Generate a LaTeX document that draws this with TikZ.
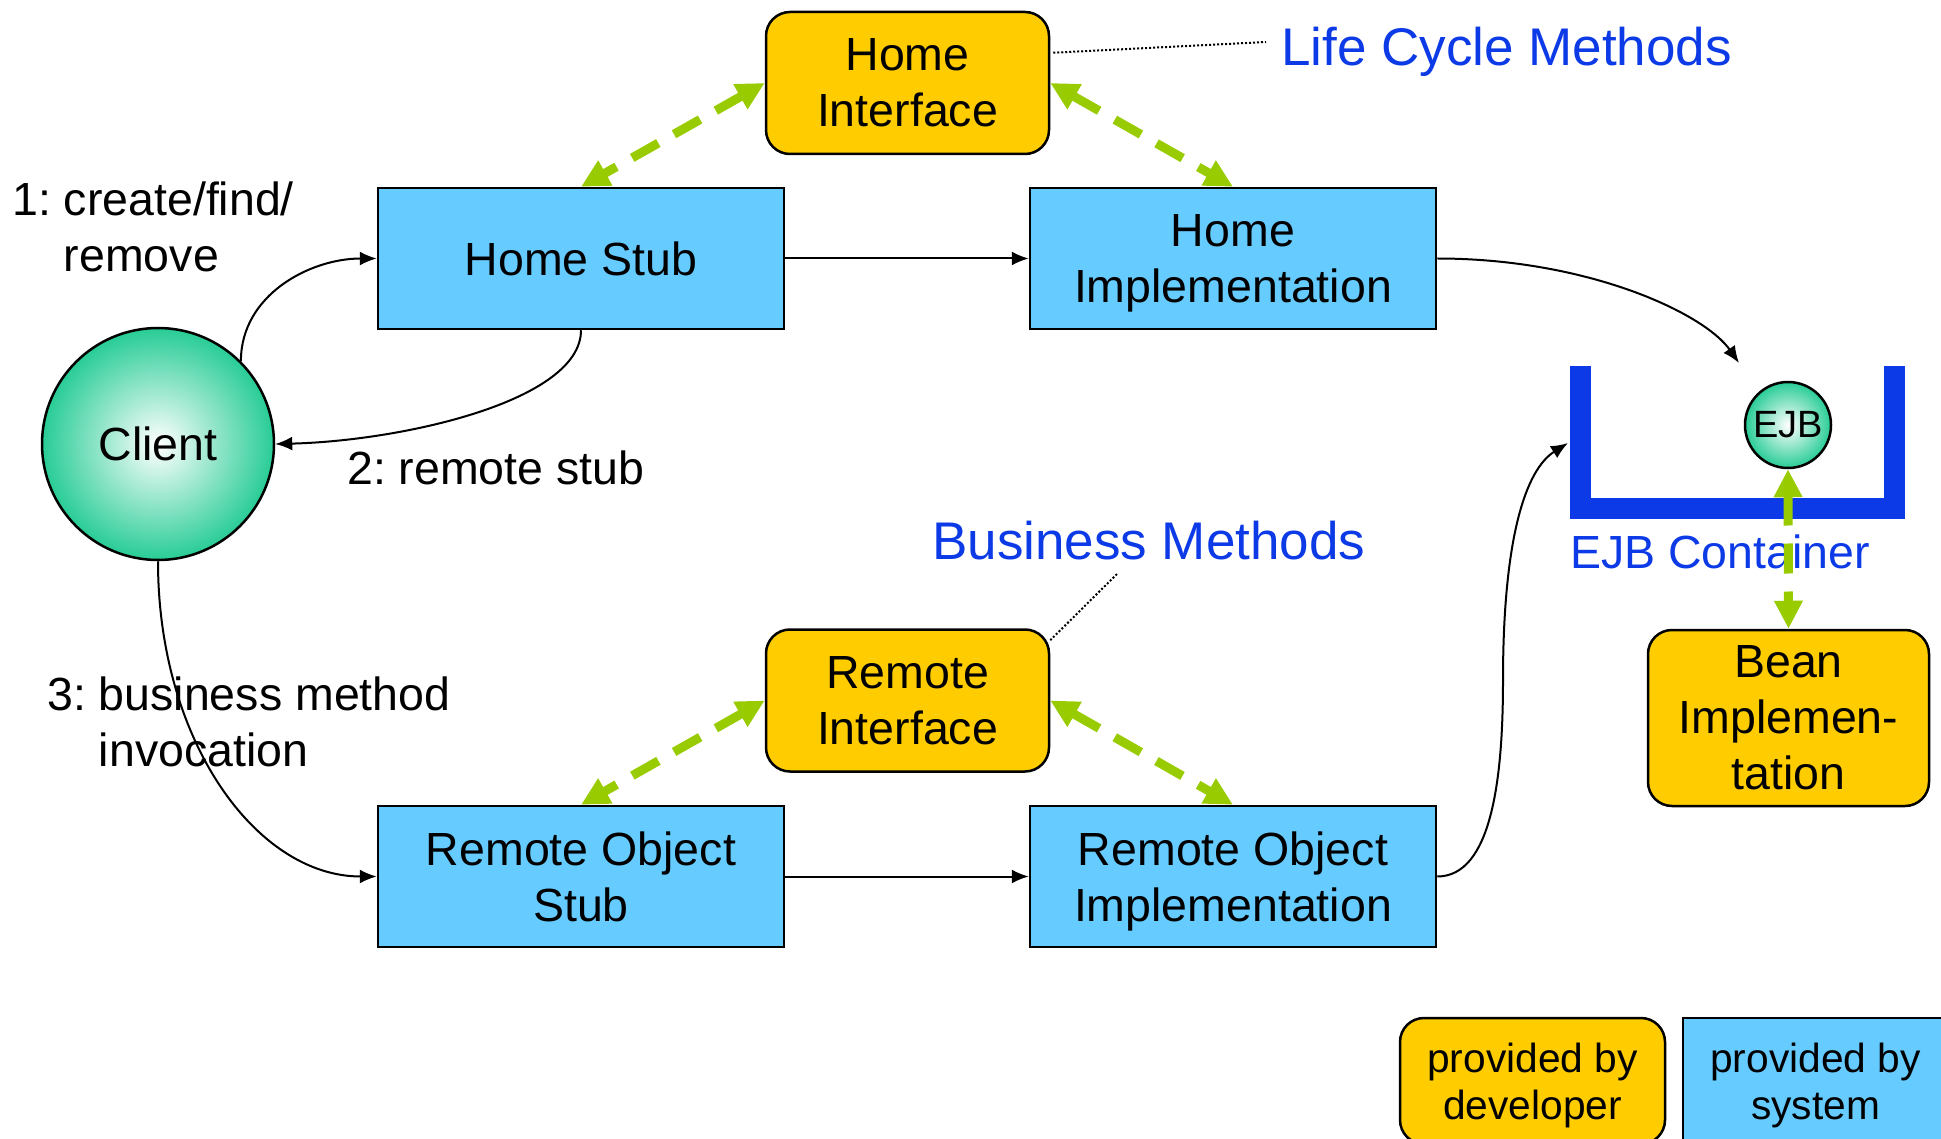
\documentclass[tikz,border=0pt]{standalone}
\usepackage{fontspec}
\setmainfont{Liberation Sans}
\usetikzlibrary{arrows.meta,calc}

\definecolor{sysblue}{RGB}{102,204,255}
\definecolor{devyellow}{RGB}{255,204,0}
\definecolor{linkgreen}{RGB}{153,204,0}
\definecolor{labelblue}{RGB}{12,58,230}
\definecolor{orbgreen}{RGB}{40,204,150}

\newcommand{\boxfont}{\fontsize{46.5}{56}\selectfont}
\newcommand{\notefont}{\fontsize{53}{62}\selectfont}
\newcommand{\legendfont}{\fontsize{40.7}{47}\selectfont}
\frenchspacing

\begin{document}
\begin{tikzpicture}[x=1pt,y=-1pt,
  sysbox/.style={draw=black, line width=2.5pt, fill=sysblue, align=center,
    font=\boxfont, inner sep=0pt, text depth=0pt, minimum width=406pt, minimum height=141pt},
  devbox/.style={draw=black, line width=2.5pt, fill=devyellow, rounded corners=24pt,
    align=center, font=\boxfont, inner sep=0pt, text depth=0pt},
  orb/.style={circle, draw=black, line width=2.5pt, inner color=white,
    outer color=orbgreen, inner sep=0pt, font=\boxfont},
  flow/.style={line width=2pt, -{Latex[length=17pt,width=14pt]}},
  link/.style={line width=9pt, draw=linkgreen, dash pattern=on 30pt off 18pt,
    {Triangle[length=28pt,width=27pt]}-{Triangle[length=28pt,width=27pt]}},
  leader/.style={line width=2pt, dotted},
  note/.style={text=labelblue, font=\notefont, inner sep=0pt, anchor=west},
  steplabel/.style={font=\boxfont, align=left, inner sep=0pt, anchor=west},
  legendbox/.style={minimum width=265pt, minimum height=126pt, font=\legendfont}
]
\useasboundingbox (0,0) rectangle (1941,1139);
\clip (0,0) rectangle (1941,1139);

% EJB container
\draw[labelblue, line width=21pt] (1580.5,366) -- (1580.5,508.5) -- (1894.5,508.5) -- (1894.5,366);
\node[note, font=\boxfont] (ejbc) at (1570,552) {EJB Container};

% main nodes
\node[orb, minimum size=232pt] (client) at (158,444) {Client};
\node[sysbox] (hs) at (581,258.5) {Home Stub};
\node[sysbox] (himpl) at (1233,258.5) {Home\\Implementation};
\node[devbox, minimum width=283pt, minimum height=142pt] (hi) at (907.5,83) {Home\\Interface};
\node[sysbox] (ros) at (581,876.5) {Remote Object\\Stub};
\node[sysbox] (roi) at (1233,876.5) {Remote Object\\Implementation};
\node[devbox, minimum width=283pt, minimum height=142pt] (ri) at (907.5,700.5) {Remote\\Interface};
\node[devbox, minimum width=281pt, minimum height=176pt] (bean) at (1788.5,718) {Bean\\Implemen-\\tation};
\node[orb, minimum size=86pt, font=\fontsize{38}{44}\selectfont] (ejb) at (1788,425) {EJB};

% notes
\node[note] (lcm) at (1281,52) {Life Cycle Methods};
\node[note] (bm) at (932,541) {Business Methods};
\coordinate (bmtail) at (1118,573);
\draw[leader] ($(hi.north east)+(3,42)$) -- ($(lcm.west)+(-15,-10)$);
\draw[leader] ($(ri.north east)+(0,12)$) -- (bmtail);

% step labels
\node[steplabel] (s1) at (12,227) {1: create/find/\\\phantom{1: }remove};
\node[steplabel] (s2) at (347,468) {2: remote stub};
\node[steplabel] (s3) at (47,722) {3: business method\\\phantom{3: }invocation};

% interface links
\draw[link] (hi.west) -- (hs.north);
\draw[link] (hi.east) -- (himpl.north);
\draw[link] (ri.west) -- (ros.north);
\draw[link] (ri.east) -- (roi.north);
\draw[link] (ejb.south) -- (bean.north);

% calls
\coordinate (ctop) at (1739,363);
\coordinate (cside) at (1568,443);
\coordinate (bend) at (1503,680);
\draw[flow] (client.45) to[out=90,in=180] (hs.west);
\draw[flow] (hs.south) .. controls +(0,71) and +(126,-3) .. (client.east);
\draw[flow] (client.south) .. controls +(0,180) and +(-120,0) .. (ros.west);
\draw[flow] (hs.east) -- (himpl.west);
\draw[flow] (ros.east) -- (roi.west);
\draw[flow] (himpl.east) .. controls +(150,0) and +(-35,-50) .. (ctop);
\draw[line width=2pt] (roi.east) .. controls +(54,0) and +(0,100) .. (bend);
\draw[flow] (bend) .. controls +(0,-140) and +(-43,27) .. (cside);

% legend
\node[devbox, legendbox] (ldev) at (1532.5,1081) {provided by\\developer};
\node[sysbox, legendbox] (lsys) at (1815.5,1081) {provided by\\system};
\end{tikzpicture}
\end{document}
